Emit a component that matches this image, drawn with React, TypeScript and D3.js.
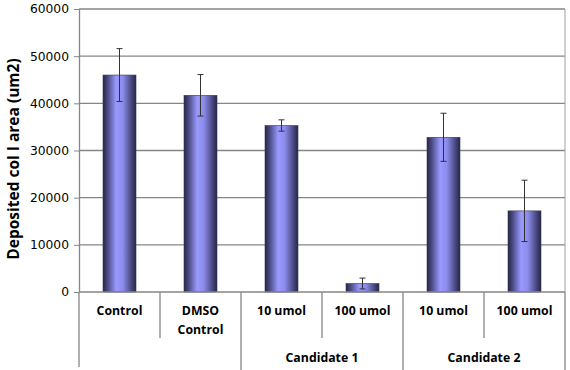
import { useEffect, useRef } from 'react'
import * as d3 from 'd3'

const categories = ['Control', 'DMSO Control', 'C1 10', 'C1 100', 'C2 10', 'C2 100']
const tickLabels = [['Control'], ['DMSO', 'Control'], ['10 umol'], ['100 umol'], ['10 umol'], ['100 umol']]
const means = [46000, 41700, 35300, 1800, 32800, 17200]
const errors = [5600, 4400, 1200, 1150, 5100, 6500]
const groups = [
  { label: '', from: 0, to: 1 },
  { label: 'Candidate 1', from: 2, to: 3 },
  { label: 'Candidate 2', from: 4, to: 5 },
]
const yTicks = [0, 10000, 20000, 30000, 40000, 50000, 60000]

const W = 570
const H = 370

export default function App() {
  const svgRef = useRef<SVGSVGElement>(null)

  useEffect(() => {
    if (!svgRef.current) return
    const svg = d3.select(svgRef.current)
    svg.selectAll('*').remove()

    const left = 79
    const right = 565
    const top = 9
    const bottom = 292

    const x = d3.scaleBand().domain(categories).range([left, right]).paddingInner(0).paddingOuter(0)
    const y = d3.scaleLinear().domain([0, 60000]).range([bottom, top])

    const defs = svg.append('defs')
    const grad = defs.append('linearGradient').attr('id', 'barGrad').attr('x1', '0%').attr('x2', '100%').attr('y1', '0%').attr('y2', '0%')
    grad.append('stop').attr('offset', '0%').attr('stop-color', '#262645')
    grad.append('stop').attr('offset', '15%').attr('stop-color', '#4d4d88')
    grad.append('stop').attr('offset', '40%').attr('stop-color', '#9999ff')
    grad.append('stop').attr('offset', '60%').attr('stop-color', '#8c8ceb')
    grad.append('stop').attr('offset', '85%').attr('stop-color', '#4a4a85')
    grad.append('stop').attr('offset', '100%').attr('stop-color', '#262645')

    // gridlines
    svg.append('g')
      .selectAll('line')
      .data(yTicks.filter(t => t > 0))
      .enter().append('line')
      .attr('x1', left).attr('x2', right)
      .attr('y1', d => y(d)).attr('y2', d => y(d))
      .attr('stroke', '#868686').attr('stroke-width', 1.3)

    // right border of plot area
    svg.append('line')
      .attr('x1', right).attr('x2', right).attr('y1', top).attr('y2', bottom)
      .attr('stroke', '#a0a0a0').attr('stroke-width', 1)

    // y axis
    const yAxis = svg.append('g')
      .attr('transform', `translate(${left},0)`)
      .call(d3.axisLeft(y).tickValues(yTicks).tickSize(5).tickSizeOuter(0).tickFormat(d3.format('d')).tickPadding(5))
    yAxis.select('.domain').attr('stroke', '#868686').attr('stroke-width', 1.3)
    yAxis.selectAll('.tick line').attr('stroke', '#868686')
    yAxis.selectAll('text')
      .style('font-family', 'DejaVu Sans, sans-serif')
      .style('font-size', '12.3px')
      .style('fill', '#000')

    // bars
    const bw = 33
    svg.append('g')
      .selectAll('rect')
      .data(means)
      .enter().append('rect')
      .attr('x', (d, i) => x(categories[i])! + x.bandwidth() / 2 - bw / 2)
      .attr('y', d => y(d))
      .attr('width', bw)
      .attr('height', d => bottom - y(d))
      .attr('fill', 'url(#barGrad)')
      .attr('stroke', '#3a3a5a')
      .attr('stroke-width', 0.6)

    // error bars
    const eb = svg.append('g').attr('stroke', '#333').attr('stroke-width', 1)
    means.forEach((m, i) => {
      const cx = x(categories[i])! + x.bandwidth() / 2
      const y1 = y(m + errors[i])
      const y2 = y(m - errors[i])
      eb.append('line').attr('x1', cx).attr('x2', cx).attr('y1', y1).attr('y2', y2)
      eb.append('line').attr('x1', cx - 3).attr('x2', cx + 3).attr('y1', y1).attr('y2', y1)
      eb.append('line').attr('x1', cx - 3).attr('x2', cx + 3).attr('y1', y2).attr('y2', y2)
    })

    // x axis baseline
    svg.append('line')
      .attr('x1', left).attr('x2', right).attr('y1', bottom).attr('y2', bottom)
      .attr('stroke', '#868686').attr('stroke-width', 1.3)

    // category separators
    const sep = svg.append('g').attr('stroke', '#868686').attr('stroke-width', 1.3)
    categories.forEach((c, i) => {
      if (i === 0) return
      const gx = x(c)!
      const isGroupEdge = groups.some(g => g.from === i)
      sep.append('line').attr('x1', gx).attr('x2', gx).attr('y1', bottom).attr('y2', isGroupEdge ? H : 338)
    })
    sep.append('line').attr('x1', left).attr('x2', left).attr('y1', bottom).attr('y2', 367)
    sep.append('line').attr('x1', right).attr('x2', right).attr('y1', bottom).attr('y2', H)

    const fontFamily = 'Open Sans, sans-serif'

    // category labels
    const labels = svg.append('g')
    tickLabels.forEach((lines, i) => {
      const cx = x(categories[i])! + x.bandwidth() / 2
      const t = labels.append('text')
        .attr('text-anchor', 'middle')
        .style('font-family', fontFamily)
        .style('font-weight', 'bold')
        .style('font-size', '12.3px')
      lines.forEach((l, j) => {
        t.append('tspan').attr('x', cx).attr('y', 315 + j * 18.5).text(l)
      })
    })

    // group labels
    groups.forEach(g => {
      if (!g.label) return
      const cx = (x(categories[g.from])! + x(categories[g.to])! + x.bandwidth()) / 2
      svg.append('text')
        .attr('x', cx).attr('y', 362)
        .attr('text-anchor', 'middle')
        .style('font-family', fontFamily)
        .style('font-weight', 'bold')
        .style('font-size', '12.3px')
        .text(g.label)
    })

    // y axis title
    svg.append('text')
      .attr('transform', `translate(19,${(55 + 263) / 2}) rotate(-90)`)
      .attr('text-anchor', 'middle')
      .style('font-family', fontFamily)
      .style('font-weight', 'bold')
      .style('font-size', '15.5px')
      .text('Deposited col I area (um2)')
  }, [])

  return (
    <svg ref={svgRef} width={W} height={H} style={{ position: 'absolute', left: 0, top: 0, background: '#fff' }} />
  )
}
